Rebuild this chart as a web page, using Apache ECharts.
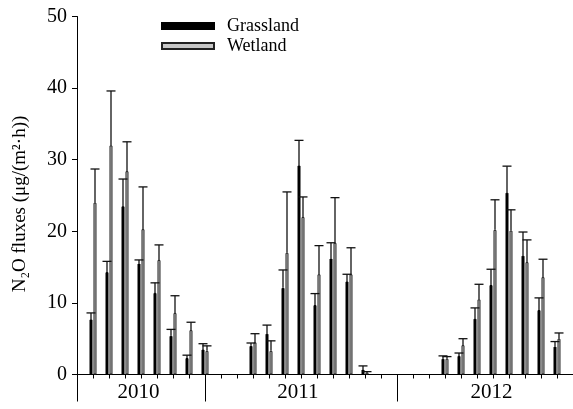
<!DOCTYPE html>
<html>
<head>
<meta charset="utf-8">
<script src="https://cdn.jsdelivr.net/npm/echarts@6/dist/echarts.min.js"></script>
<style>html,body{margin:0;padding:0;background:#fff}#c{width:573px;height:409px}</style>
</head>
<body>
<div id="c"></div>
<script>
// positions along the time axis (one slot per sampling period)
const categories = ['P0','P1','P2','P3','P4','P5','P6','P7','P8','P9','P10','P11','P12','P13','P14','P15',
  'P16','P17','P18','P19','P20','P21','P22','P23','P24','P25','P26','P27','P28','P29','P30','P31'];
const grassland = [null,7.7,14.3,23.5,15.5,11.4,5.4,2.3,3.5,null,null,4.0,5.7,12.1,29.2,9.7,
  16.2,13.0,0.7,null,null,null,null,2.2,2.6,7.8,12.5,25.4,16.6,9.0,3.9,null];
const grasslandErrTop = [null,8.6,15.8,27.3,16.0,12.8,6.3,2.7,4.3,null,null,4.4,6.9,14.6,32.7,11.3,
  18.4,14.0,1.2,null,null,null,null,2.6,3.0,9.3,14.7,29.1,19.9,10.7,4.6,null];
const wetland = [null,24.0,32.0,28.4,20.3,16.0,8.6,6.2,3.3,null,null,4.5,3.3,17.0,22.0,14.0,
  18.4,14.0,0.3,null,null,null,null,2.2,4.1,10.5,20.2,20.1,15.7,13.6,5.0,null];
const wetlandErrTop = [null,28.7,39.6,32.5,26.2,18.1,11.0,7.3,4.0,null,null,5.7,4.7,25.5,24.8,18.0,
  24.7,17.7,0.4,null,null,null,null,2.5,5.0,12.6,24.4,23.0,18.8,16.1,5.8,null];
const yearTickPositions = [0, 8, 20];
const yearLabelPositions = [3.84, 13.8, 25.9];
const yearLabels = ['2010', '2011', '2012'];

const FONT = '"Liberation Serif","Times New Roman",serif';

function errData(vals, tops) {
  const out = [];
  vals.forEach((v, i) => { if (v !== null) out.push([i, v, tops[i]]); });
  return out;
}
function errSeries(vals, tops, offset) {
  return {
    type: 'custom',
    xAxisIndex: 0,
    data: errData(vals, tops),
    encode: { x: 0, y: [1, 2] },
    silent: true,
    z: 3,
    renderItem: function (params, api) {
      const idx = api.value(0);
      const x = api.coord([idx, 0])[0] + offset;
      const y1 = api.coord([idx, api.value(1)])[1];
      const y2 = api.coord([idx, api.value(2)])[1];
      const st = { stroke: '#111', lineWidth: 1.3 };
      return {
        type: 'group',
        children: [
          { type: 'line', shape: { x1: x, y1: y1, x2: x, y2: y2 }, style: st },
          { type: 'line', shape: { x1: x - 4.5, y1: y2, x2: x + 4.5, y2: y2 }, style: st }
        ]
      };
    }
  };
}

const chart = echarts.init(document.getElementById('c'), null, { renderer: 'canvas' });
chart.setOption({
  animation: false,
  backgroundColor: '#fff',
  textStyle: { fontFamily: FONT, color: '#000' },
  grid: { left: 77, right: 0, top: 16.5, bottom: 34.5 },
  legend: {
    orient: 'vertical',
    left: 156, top: 12,
    itemWidth: 52, itemHeight: 6, itemGap: 2,
    icon: 'rect',
    selectedMode: false,
    data: ['Grassland', 'Wetland'],
    textStyle: { fontFamily: FONT, fontSize: 18, color: '#000', padding: [0, 0, 0, 8] }
  },
  xAxis: [
    {
      type: 'category',
      data: categories,
      boundaryGap: false,
      axisLine: { show: true, lineStyle: { color: '#000', width: 1 } },
      axisTick: { show: true, length: 4, interval: 0, lineStyle: { color: '#000' } },
      axisLabel: { show: false },
      splitLine: { show: false }
    },
    {
      type: 'value',
      min: 0, max: categories.length - 1,
      position: 'bottom',
      axisLine: { show: false },
      axisTick: { show: true, length: 27, customValues: yearTickPositions, lineStyle: { color: '#000' } },
      axisLabel: {
        show: true, customValues: yearLabelPositions, margin: 7,
        fontFamily: FONT, fontSize: 21, color: '#000',
        formatter: function (v) { return yearLabels[yearLabelPositions.indexOf(v)]; }
      },
      splitLine: { show: false }
    }
  ],
  yAxis: {
    type: 'value', min: 0, max: 50, interval: 10,
    axisLine: { show: true, lineStyle: { color: '#000' } },
    axisTick: { show: true, length: 5, lineStyle: { color: '#000' } },
    axisLabel: { margin: 10, fontFamily: FONT, fontSize: 20, color: '#000' },
    splitLine: { show: false }
  },
  graphic: [{
    type: 'text',
    x: 20, y: 204,
    rotation: Math.PI / 2,
    style: {
      text: 'N\u2082O fluxes (\u03bcg/(m\u00b2\u00b7h))',
      font: '19px ' + FONT,
      fill: '#000',
      align: 'center',
      verticalAlign: 'middle'
    }
  }],
  series: [
    {
      name: 'Grassland', type: 'bar', data: grassland,
      barWidth: 3, barGap: '33%',
      itemStyle: { color: '#000', borderColor: '#000', borderWidth: 1 },
      silent: true, z: 2
    },
    {
      name: 'Wetland', type: 'bar', data: wetland,
      barWidth: 3, barGap: '33%',
      itemStyle: { color: '#c8c8c8', borderColor: '#222', borderWidth: 1 },
      silent: true, z: 2
    },
    errSeries(grassland, grasslandErrTop, -2),
    errSeries(wetland, wetlandErrTop, 2)
  ]
});
</script>
</body>
</html>
